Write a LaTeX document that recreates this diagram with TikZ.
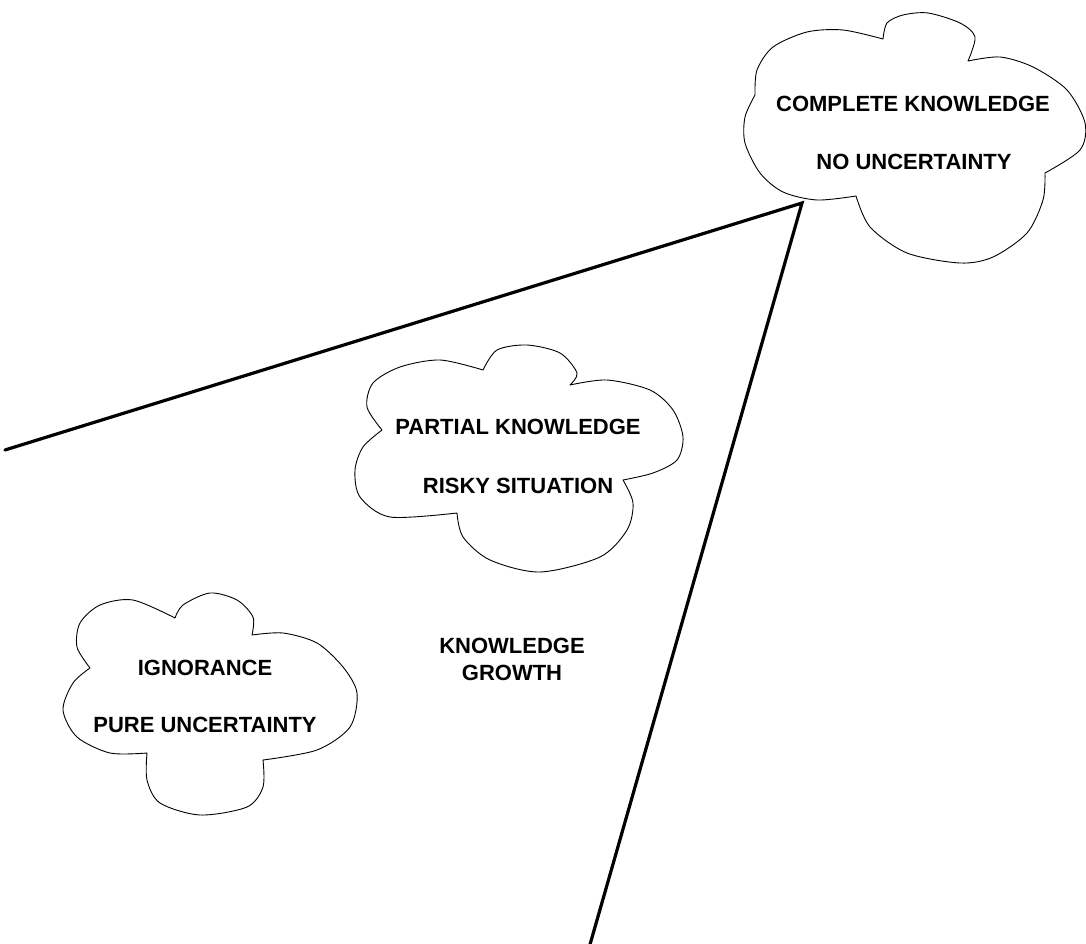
\documentclass[tikz,border=0pt]{standalone}
\usepackage{fontspec}
\setmainfont{Liberation Sans}
\tikzset{
    nuvola/.style={draw=black,line width=0.9pt,fill=white,line join=round},
    cuneo/.style={draw=black,line width=3.2pt,line cap=round,line join=miter},
    etichetta/.style={font=\fontsize{22}{27}\selectfont\bfseries,inner sep=0pt,anchor=base,align=center}
}
\begin{document}
\begin{tikzpicture}[x=1pt,y=-1pt]
        \useasboundingbox (0,0) rectangle (1086,944);

        %%%%%%%%%% Cuneo %%%%%%%%%%
        \coordinate (sinistra) at (5,450);
        \coordinate (vertice) at (802,203);
        \coordinate (basso) at (589,948);
        \draw[cuneo] (sinistra) -- (vertice) -- (basso);

        %%%%%%%%% Nuvole %%%%%%%%%
        \draw[nuvola] plot[smooth] coordinates {(883,39) (887,23) (903,15) (928,13) (960,23) (975,37) (968,61)}
            -- plot[smooth] coordinates {(968,61) (1000,57) (1033,67) (1067,90) (1085,123) (1080,150) (1045,173)}
            -- plot[smooth] coordinates {(1045,173) (1043,200) (1027,233) (993,257) (960,263) (907,253) (870,227) (856,196)}
            -- plot[smooth] coordinates {(856,196) (817,200) (783,192) (760,173) (745,143) (745,117) (755,95)}
            -- plot[smooth] coordinates {(755,95) (757,70) (773,47) (807,32) (843,30) (883,39)} -- cycle;
        \draw[nuvola] plot[smooth] coordinates {(483,370) (497,350) (527,345) (560,353) (577,373) (570,385)}
            -- plot[smooth] coordinates {(570,385) (607,380) (650,390) (673,410) (683,437) (677,460) (653,473) (623,480)}
            -- plot[smooth] coordinates {(623,480) (633,503) (627,530) (600,557) (540,572) (490,560) (463,537) (457,513)}
            -- plot[smooth] coordinates {(457,513) (390,517) (360,497) (355,470) (363,447) (382,430)}
            -- plot[smooth] coordinates {(382,430) (367,407) (373,383) (400,367) (440,360) (483,370)} -- cycle;
        \draw[nuvola] plot[smooth] coordinates {(175,618) (183,605) (210,593) (237,600) (253,617) (252,635)}
            -- plot[smooth] coordinates {(252,635) (283,633) (317,643) (343,667) (357,693) (350,727) (317,750) (263,760)}
            -- plot[smooth] coordinates {(263,760) (263,787) (247,807) (200,815) (160,803) (147,780) (147,753)}
            -- plot[smooth] coordinates {(147,753) (110,753) (77,737) (63,710) (73,683) (90,668)}
            -- plot[smooth] coordinates {(90,668) (77,647) (80,623) (100,605) (133,600) (175,618)} -- cycle;

        %%%%%%%%% Testi %%%%%%%%%
        \node[etichetta] (completa) at (913,112) {COMPLETE KNOWLEDGE};
        \node[etichetta] (certezza) at (914,170) {NO UNCERTAINTY};
        \node[etichetta] (parziale) at (518,434) {PARTIAL KNOWLEDGE};
        \node[etichetta] (rischio) at (518,493) {RISKY SITUATION};
        \node[etichetta] (ignoranza) at (205,675) {IGNORANCE};
        \node[etichetta] (incertezza) at (205,732) {PURE UNCERTAINTY};
        \node[etichetta] (crescita) at (512,680) {KNOWLEDGE\\GROWTH};
    \end{tikzpicture}
\end{document}
